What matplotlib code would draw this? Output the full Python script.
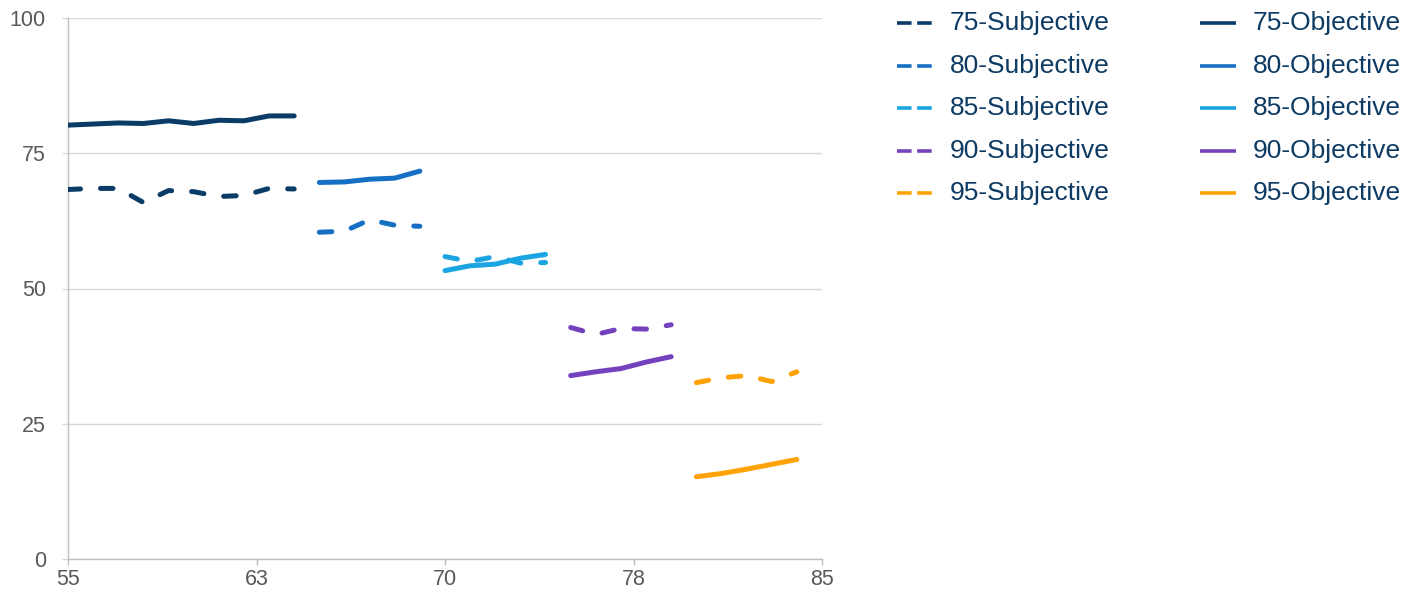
import matplotlib
matplotlib.use("Agg")
import matplotlib.pyplot as plt
from matplotlib.lines import Line2D

plt.rcParams['font.family'] = ['Liberation Sans', 'DejaVu Sans']
plt.rcParams['lines.scale_dashes'] = False

# Ages observed for each cohort
ages_75 = [55, 56, 57, 58, 59, 60, 61, 62, 63, 64]
ages_80 = [65, 66, 67, 68, 69]
ages_85 = [70, 71, 72, 73, 74]
ages_90 = [75, 76, 77, 78, 79]
ages_95 = [80, 81, 82, 83, 84]

# Subjective survival expectations (%)
subj_75 = [68.3, 68.5, 68.5, 65.9, 68.1, 67.9, 67.0, 67.2, 68.5, 68.4]
subj_80 = [60.4, 60.6, 62.7, 61.7, 61.5]
subj_85 = [55.9, 55.0, 55.9, 54.7, 54.8]
subj_90 = [42.8, 41.5, 42.6, 42.5, 43.3]
subj_95 = [32.6, 33.5, 33.9, 32.8, 34.6]

# Objective survival probabilities (%)
obj_75 = [80.2, 80.4, 80.6, 80.5, 81.0, 80.5, 81.1, 81.0, 81.9, 81.9]
obj_80 = [69.6, 69.7, 70.2, 70.4, 71.7]
obj_85 = [53.3, 54.2, 54.5, 55.6, 56.3]
obj_90 = [33.9, 34.6, 35.2, 36.4, 37.4]
obj_95 = [15.2, 15.8, 16.6, 17.5, 18.4]

cohorts = ['75', '80', '85', '90', '95']
ages = [ages_75, ages_80, ages_85, ages_90, ages_95]
subjective = [subj_75, subj_80, subj_85, subj_90, subj_95]
objective = [obj_75, obj_80, obj_85, obj_90, obj_95]
colors = ['#0b3c68', '#1570c4', '#1aa5e2', '#7542be', '#ffa205']

x_ticks = [55, 62.5, 70, 77.5, 85]
x_tick_labels = ['55', '63', '70', '78', '85']
y_ticks = [0, 25, 50, 75, 100]

fig = plt.figure(figsize=(14.24, 5.92), dpi=100)
ax = fig.add_axes([68 / 1424, 33 / 592, 754 / 1424, 541 / 592])

lw = 3.6
for x, s, o, c in zip(ages, subjective, objective, colors):
    ax.plot(x, s, color=c, lw=lw, dashes=(9.0, 14.4),
            dash_capstyle='round', solid_capstyle='round', zorder=3)
    ax.plot(x, o, color=c, lw=lw, solid_capstyle='round', zorder=3)

ax.set_xlim(55, 85)
ax.set_ylim(0, 100)
ax.set_xticks(x_ticks)
ax.set_xticklabels(x_tick_labels)
ax.set_yticks(y_ticks)

grid_c = '#d9d9d9'
ax.grid(axis='y', color=grid_c, lw=1.0)
ax.set_axisbelow(True)
for side in ['top', 'right']:
    ax.spines[side].set_visible(False)
for side in ['left', 'bottom']:
    ax.spines[side].set_color('#bfbfbf')
    ax.spines[side].set_linewidth(1.0)

ax.tick_params(axis='x', length=4, width=1.0, color='#bfbfbf', pad=3,
               labelsize=15.5, labelcolor='#595959')
ax.tick_params(axis='y', length=4, width=1.0, color='#d9d9d9', pad=12,
               labelsize=15.5, labelcolor='#595959')

# Two-column key: subjective (dashed) and objective (solid)
W, H = 1424, 592
row_y = [23, 65.5, 108, 150.5, 193]
text_c = '#0e3b63'
for i, (name, c) in enumerate(zip(cohorts, colors)):
    yf = 1 - row_y[i] / H
    fig.add_artist(Line2D([897 / W, 933 / W], [yf, yf], color=c, lw=2.6,
                          dashes=(10.5, 4.0), solid_capstyle='butt',
                          dash_capstyle='butt', transform=fig.transFigure))
    fig.text(950 / W, yf, f'{name}-Subjective', fontsize=19, color=text_c,
             va='center', ha='left')
    fig.add_artist(Line2D([1200 / W, 1236 / W], [yf, yf], color=c, lw=2.6,
                          solid_capstyle='butt', transform=fig.transFigure))
    fig.text(1253 / W, yf, f'{name}-Objective', fontsize=19, color=text_c,
             va='center', ha='left')

fig.savefig('out.png', dpi=100)
